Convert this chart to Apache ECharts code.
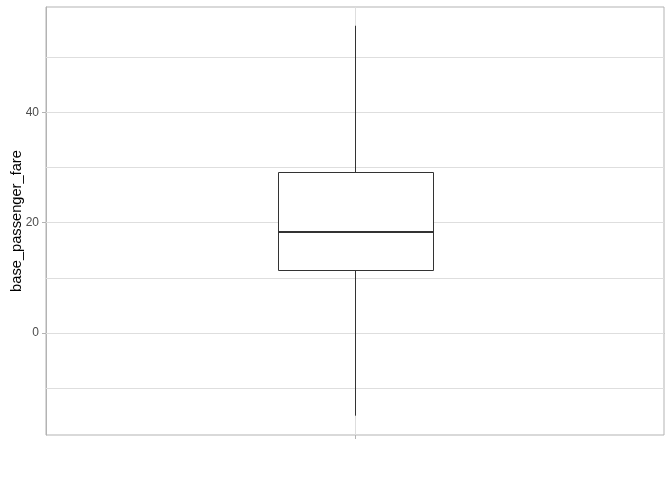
<!DOCTYPE html>
<html>
<head>
<meta charset="utf-8">
<script src="https://cdn.jsdelivr.net/npm/echarts@6/dist/echarts.min.js"></script>
<style>
html,body{margin:0;padding:0;background:#fff;}
#chart{width:672px;height:480px;}
</style>
</head>
<body>
<div id="chart"></div>
<script>
// Data
const categories = ['fare'];
const boxStats = [[0, -15.0, 11.4, 18.3, 29.1, 55.7]]; // [cat, min, q1, median, q3, max]
const yLabelValues = [0, 20, 40];
const majorGridY = [0, 20, 40];
const minorGridY = [-10, 10, 30, 50];
const yMin = -18.5;
const yMax = 59.1;

const chart = echarts.init(document.getElementById('chart'), null, {renderer: 'canvas'});

const gridLineData = majorGridY.map(v => ({yAxis: v}))
  .concat(minorGridY.map(v => ({yAxis: v})))
  .concat([{xAxis: 0}]);

chart.setOption({
  animation: false,
  backgroundColor: '#ffffff',
  textStyle: {fontFamily: 'Liberation Sans, Arial, sans-serif'},
  grid: {
    left: 46, right: 8, top: 7, bottom: 45,
    containLabel: false,
    outerBoundsMode: 'none',
    show: true, borderColor: '#b3b3b3', borderWidth: 1, backgroundColor: 'transparent'
  },
  xAxis: {
    type: 'category',
    data: categories,
    boundaryGap: true,
    axisLine: {show: true, lineStyle: {color: '#b3b3b3', width: 1}},
    axisTick: {show: false},
    axisLabel: {show: false},
    splitLine: {show: false}
  },
  yAxis: {
    type: 'value',
    min: yMin,
    max: yMax,
    name: 'base_passenger_fare',
    nameLocation: 'middle',
    nameRotate: 90,
    nameGap: 22,
    nameMoveOverlap: false,
    nameTextStyle: {color: '#000000', fontSize: 14.67, fontFamily: 'Liberation Sans, Arial, sans-serif'},
    axisLine: {show: true, lineStyle: {color: '#b3b3b3', width: 1}},
    axisTick: {show: true, customValues: yLabelValues, length: 4, lineStyle: {color: '#b3b3b3', width: 1}},
    axisLabel: {show: true, customValues: yLabelValues, margin: 7, color: '#4d4d4d', fontSize: 12,
      fontFamily: 'Liberation Sans, Arial, sans-serif'},
    splitLine: {show: false}
  },
  series: [
    {
      type: 'line',
      data: [],
      z: 1,
      silent: true,
      markLine: {
        silent: true,
        z: 1,
        symbol: ['none', 'none'],
        label: {show: false},
        lineStyle: {color: '#dedede', width: 1, type: 'solid'},
        emphasis: {disabled: true},
        data: gridLineData,
        animation: false
      }
    },
    {
      type: 'custom',
      z: 10,
      clip: false,
      data: boxStats,
      encode: {x: 0, y: [1, 2, 3, 4, 5]},
      renderItem: function (params, api) {
        const cat = api.value(0);
        const pMin = api.coord([cat, api.value(1)]);
        const pQ1 = api.coord([cat, api.value(2)]);
        const pMed = api.coord([cat, api.value(3)]);
        const pQ3 = api.coord([cat, api.value(4)]);
        const pMax = api.coord([cat, api.value(5)]);
        const band = api.size([1, 0])[0];
        const w = Math.round(band * 0.25);
        const cx = Math.round(pMed[0]) + 0.5;
        const left = Math.round(cx - w / 2) + 0.5;
        const right = left + w;
        const yQ3 = Math.round(pQ3[1]) + 0.5;
        const yQ1 = Math.round(pQ1[1]) + 0.5;
        const bottomY = params.coordSys.y + params.coordSys.height;
        const stroke = '#333333';
        return {
          type: 'group',
          children: [
            {type: 'line', shape: {x1: cx, y1: bottomY, x2: cx, y2: bottomY + 4}, style: {stroke: '#b3b3b3', lineWidth: 1}},
            {type: 'line', shape: {x1: cx, y1: pMax[1], x2: cx, y2: yQ3}, style: {stroke: stroke, lineWidth: 1}},
            {type: 'line', shape: {x1: cx, y1: yQ1, x2: cx, y2: pMin[1]}, style: {stroke: stroke, lineWidth: 1}},
            {type: 'rect', shape: {x: left, y: yQ3, width: w, height: yQ1 - yQ3},
              style: {fill: '#ffffff', stroke: stroke, lineWidth: 1}},
            {type: 'line', shape: {x1: left, y1: Math.round(pMed[1]), x2: right, y2: Math.round(pMed[1])},
              style: {stroke: stroke, lineWidth: 2}}
          ]
        };
      }
    }
  ]
});
</script>
</body>
</html>
